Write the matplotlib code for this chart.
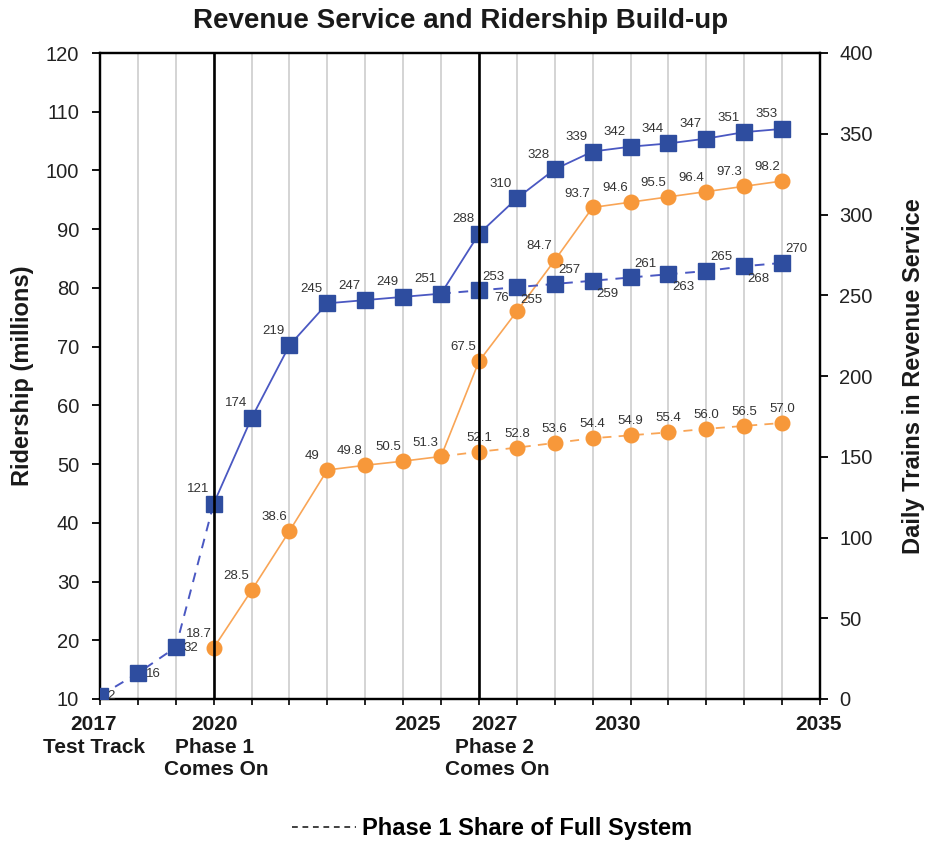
import matplotlib.pyplot as plt
from matplotlib.lines import Line2D

plt.rcParams["font.family"] = ["Liberation Sans", "DejaVu Sans"]

# Trains in revenue service (right axis)
test_years = [2017, 2018, 2019, 2020]
test_trains = [2, 16, 32, 121]

full_years = list(range(2020, 2036))
full_trains = [121, 174, 219, 245, 247, 249, 251, 288, 310, 328, 339, 342, 344, 347, 351, 353]

p1_years = list(range(2026, 2036))
p1_trains = [251, 253, 255, 257, 259, 261, 263, 265, 268, 270]

# Ridership in millions (left axis)
full_riders = [18.7, 28.5, 38.6, 49, 49.8, 50.5, 51.3, 67.5, 76, 84.7, 93.7, 94.6, 95.5, 96.4, 97.3, 98.2]
p1_riders = [51.3, 52.1, 52.8, 53.6, 54.4, 54.9, 55.4, 56.0, 56.5, 57.0]

milestone_years = [2020, 2027]
year_labels = [
    ("2017", "Test Track", ""),
    ("2020", "Phase 1", "Comes On"),
    ("2025", "", ""),
    ("2027", "Phase 2", "Comes On"),
    ("2030", "", ""),
    ("2035", "", ""),
]
year_label_x = [2016.84, 2020.02, 2025.38, 2027.41, 2030.66, 2035.95]

BLUE = "#2E4D9F"
BLUE_LINE = "#4A58C2"
ORANGE = "#F7983A"
ORANGE_LINE = "#F9A556"
LABEL_GRAY = "#333333"
TEXT = "#1a1a1a"

fig = plt.figure(figsize=(9.25, 8.42), dpi=100)
ax = fig.add_axes([100 / 925, 1 - 699 / 842, 720 / 925, 646 / 842])
ax2 = ax.twinx()

ax.set_xlim(2017, 2036)
ax.set_ylim(10, 120)
ax2.set_ylim(0, 400)
ax.set_xticks(range(2017, 2037))
ax.set_xticklabels([])
ax.set_yticks(range(10, 121, 10))
ax2.set_yticks(range(0, 401, 50))
ax.grid(axis="x", color="#d4d4d4", linewidth=1.4, zorder=0)
ax.set_axisbelow(True)

for a in (ax, ax2):
    for s in a.spines.values():
        s.set_linewidth(1.6)
        s.set_color("black")
ax.tick_params(axis="y", direction="out", length=6, width=1.3, pad=9,
               labelsize=14.5, labelcolor="#222222")
ax2.tick_params(axis="y", direction="out", length=6, width=1.3, pad=8,
                labelsize=14.5, labelcolor="#222222")
ax.tick_params(axis="x", direction="out", length=4, width=1.2)

# milestone lines drawn over the markers
for yr in milestone_years:
    ax2.axvline(yr, color="black", linewidth=1.9, zorder=10)

# orange ridership series
ax.plot(full_years, full_riders, color=ORANGE_LINE, linewidth=1.2, zorder=3)
ax.plot(full_years, full_riders, linestyle="none", marker="o", markersize=10.5,
        markerfacecolor=ORANGE, markeredgecolor=ORANGE, zorder=4)
ax.plot(p1_years, p1_riders, color=ORANGE_LINE, linewidth=1.3, linestyle=(0, (5, 4)), zorder=3)
ax.plot(p1_years[1:], p1_riders[1:], linestyle="none", marker="o", markersize=10.5,
        markerfacecolor=ORANGE, markeredgecolor=ORANGE, zorder=4)

for x, y in zip(full_years, full_riders):
    ax.annotate(f"{y:g}", (x, y), xytext=(-11, 10), textcoords="offset points",
                ha="center", va="center", fontsize=9.5, color=LABEL_GRAY, zorder=6)
for x, y in zip(p1_years[1:], p1_riders[1:]):
    ax.annotate(f"{y:.1f}", (x, y), xytext=(0, 10), textcoords="offset points",
                ha="center", va="center", fontsize=9.5, color=LABEL_GRAY, zorder=6)

# blue trains series
ax2.plot(full_years, full_trains, color=BLUE_LINE, linewidth=1.3, zorder=3)
ax2.plot(test_years, test_trains, color=BLUE_LINE, linewidth=1.4, linestyle=(0, (5, 4)), zorder=3)
ax2.plot(p1_years, p1_trains, color=BLUE_LINE, linewidth=1.4, linestyle=(0, (5, 4)), zorder=3)
ax2.plot(full_years, full_trains, linestyle="none", marker="s", markersize=11,
         markerfacecolor=BLUE, markeredgecolor=BLUE, zorder=5)
ax2.plot(test_years[:-1], test_trains[:-1], linestyle="none", marker="s", markersize=11,
         markerfacecolor=BLUE, markeredgecolor=BLUE, zorder=5)
ax2.plot(p1_years[1:], p1_trains[1:], linestyle="none", marker="s", markersize=11,
         markerfacecolor=BLUE, markeredgecolor=BLUE, zorder=5)

for x, y in zip(full_years, full_trains):
    ax2.annotate(f"{y}", (x, y), xytext=(-11.5, 10.5), textcoords="offset points",
                 ha="center", va="center", fontsize=9.5, color=LABEL_GRAY, zorder=6)
for x, y in zip(test_years[:-1], test_trains[:-1]):
    ax2.annotate(f"{y}", (x, y), xytext=(5.5, -0.5), textcoords="offset points",
                 ha="left", va="center", fontsize=9.5, color=LABEL_GRAY, zorder=6)
for i, (x, y) in enumerate(zip(p1_years[1:], p1_trains[1:])):
    dy = 10 if i % 2 == 0 else -9.5
    ax2.annotate(f"{y}", (x, y), xytext=(10.5, dy), textcoords="offset points",
                 ha="center", va="center", fontsize=9.5, color=LABEL_GRAY, zorder=6)

# year / milestone labels under the axis
xt = ax.get_xaxis_transform()
for (yr, line2, line3), xpos in zip(year_labels, year_label_x):
    ax.text(xpos, -0.040, yr, transform=xt, ha="center", va="center",
            fontsize=15, fontweight="bold", color=TEXT)
    if line2:
        ax.text(xpos, -0.075, line2, transform=xt, ha="center", va="center",
                fontsize=15, fontweight="bold", color=TEXT)
    if line3:
        ax.text(xpos + 0.06, -0.109, line3, transform=xt, ha="center", va="center",
                fontsize=15, fontweight="bold", color=TEXT)

ax.set_ylabel("Ridership (millions)", fontsize=17, fontweight="bold", color=TEXT)
ax.yaxis.set_label_coords(-0.092, 0.5)
ax2.set_ylabel("Daily Trains in Revenue Service", fontsize=17, fontweight="bold", color=TEXT)
ax2.yaxis.set_label_coords(1.114, 0.5)

fig.text(461 / 925, 1 - 21 / 842, "Revenue Service and Ridership Build-up",
         ha="center", va="center", fontsize=20, fontweight="bold", color=TEXT)

legend_handle = Line2D([], [], color="#333333", linewidth=1.3, linestyle=(0, (3.2, 2.6)))
fig.legend([legend_handle], ["Phase 1 Share of Full System"], loc="center",
           bbox_to_anchor=(492 / 925, 1 - 829 / 842), frameon=False, handlelength=2.7,
           handletextpad=0.25, prop={"size": 17, "weight": "bold"})

fig.savefig("out.png", dpi=100)
